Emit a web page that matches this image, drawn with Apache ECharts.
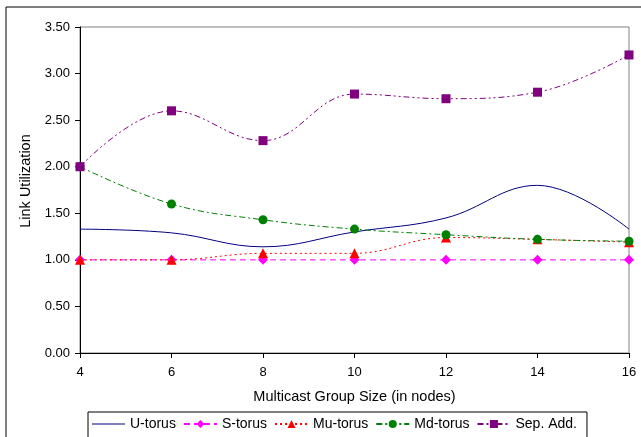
<!DOCTYPE html>
<html>
<head>
<meta charset="utf-8">
<script src="https://cdn.jsdelivr.net/npm/echarts@6/dist/echarts.min.js"></script>
<style>
html,body{margin:0;padding:0;background:#fff;}
#main{width:641px;height:437px;}
</style>
</head>
<body>
<div id="main"></div>
<script>
// group sizes
var groupSize = [4, 6, 8, 10, 12, 14, 16];
var uTorus   = [1.33, 1.29, 1.14, 1.30, 1.45, 1.80, 1.33];
var sTorus   = [1.00, 1.00, 1.00, 1.00, 1.00, 1.00, 1.00];
var muTorus  = [1.00, 1.00, 1.07, 1.07, 1.24, 1.22, 1.19];
var mdTorus  = [2.00, 1.60, 1.43, 1.33, 1.27, 1.22, 1.20];
var sepAdd   = [2.00, 2.60, 2.28, 2.78, 2.73, 2.80, 3.20];
var yTicks   = [0, 0.5, 1, 1.5, 2, 2.5, 3, 3.5];

function pairs(vals){
    var out = [];
    for (var i = 0; i < vals.length; i++) {
        out.push([groupSize[i], vals[i]]);
    }
    return out;
}

var font = 'Liberation Sans, Arial, sans-serif';

function makeSeries(name, vals, color, dash, symbol, size){
    return {
        name: name,
        type: 'line',
        data: pairs(vals),
        smooth: 0.4,
        symbol: symbol,
        symbolSize: size,
        showSymbol: symbol != 'none',
        lineStyle: {color: color, width: 1, type: dash},
        itemStyle: {color: color},
        emphasis: {disabled: true}
    };
}

var chart = echarts.init(document.getElementById('main'));
var option = {
    animation: false,
    textStyle: {fontFamily: font},
    graphic: [{
        type: 'rect',
        shape: {x: 6, y: 7, width: 660, height: 460},
        style: {fill: 'none', stroke: '#000', lineWidth: 1},
        silent: true,
        z: 0
    }],
    grid: {
        left: 80, top: 27, right: 12, bottom: 84,
        show: true, borderColor: '#808080', borderWidth: 1
    },
    xAxis: {
        type: 'value',
        min: 4, max: 16, interval: 2,
        name: 'Multicast Group Size (in nodes)',
        nameLocation: 'middle',
        nameGap: 36,
        nameTextStyle: {fontSize: 14.5, color: '#000', fontFamily: font},
        axisLine: {lineStyle: {color: '#000'}},
        axisTick: {inside: false, length: 5, lineStyle: {color: '#000'}},
        axisLabel: {fontSize: 13, color: '#000', margin: 13, fontFamily: font},
        splitLine: {show: false}
    },
    yAxis: {
        type: 'value',
        min: yTicks[0], max: yTicks[yTicks.length - 1], interval: 0.5,
        name: 'Link Utilization',
        nameLocation: 'middle',
        nameGap: 44,
        nameTextStyle: {fontSize: 14.5, color: '#000', fontFamily: font, padding: [0, 0, 0, 18]},
        axisLine: {show: true, lineStyle: {color: '#000'}},
        axisTick: {show: true, length: 5, lineStyle: {color: '#000'}},
        axisLabel: {
            fontSize: 13, color: '#000', margin: 10, fontFamily: font,
            formatter: function(v){ return v.toFixed(2); }
        },
        splitLine: {show: false}
    },
    legend: {
        left: 88, top: 412,
        width: 496,
        itemWidth: 33, itemHeight: 10,
        itemGap: 7,
        padding: [5, 10, 8, 4],
        borderColor: '#000', borderWidth: 1,
        textStyle: {fontSize: 14, color: '#000', fontFamily: font},
        data: [
            {name: 'U-torus', icon: 'path://M0,4.5L33,4.5L33,5.5L0,5.5Z'},
            'S-torus', 'Mu-torus', 'Md-torus', 'Sep. Add.'
        ]
    },
    series: [
        makeSeries('U-torus', uTorus, '#000080', 'solid', 'none', 0),
        makeSeries('S-torus', sTorus, '#FF00FF', [6, 4], 'diamond', 10),
        makeSeries('Mu-torus', muTorus, '#FF0000', [2, 3], 'triangle', 10),
        makeSeries('Md-torus', mdTorus, '#008000', [6, 3, 2, 3], 'circle', 9),
        makeSeries('Sep. Add.', sepAdd, '#800080', [6, 3, 2, 3, 2, 3], 'rect', 9)
    ]
};
chart.setOption(option);
</script>
</body>
</html>
